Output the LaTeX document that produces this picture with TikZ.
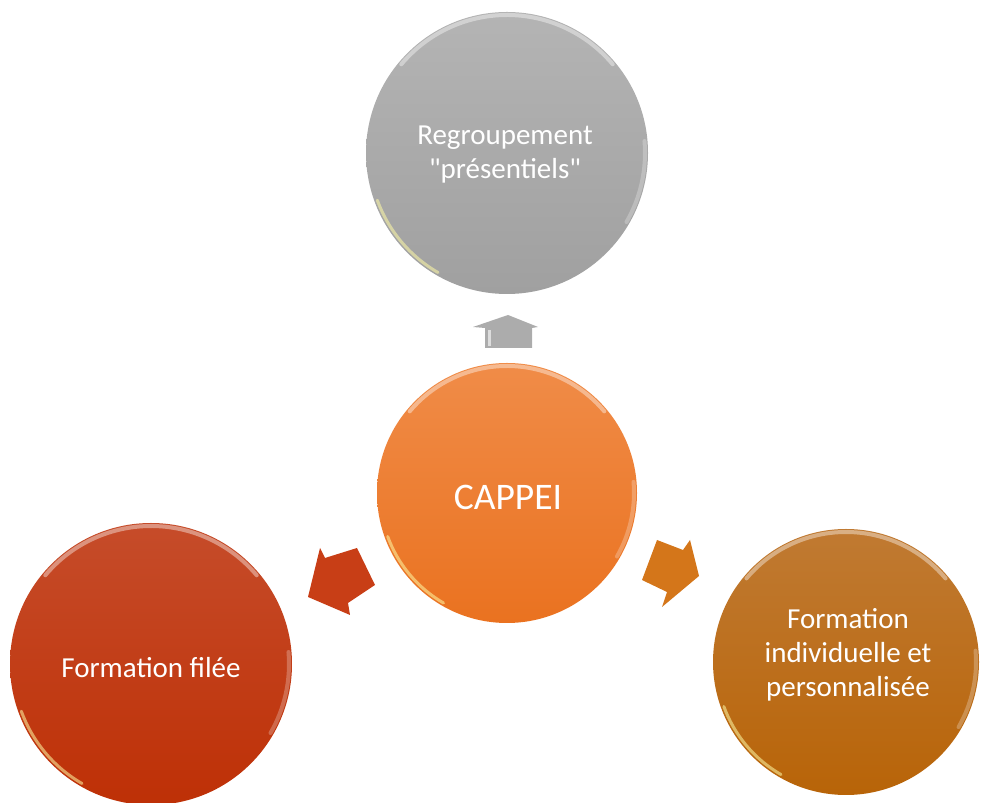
\documentclass[tikz,border=0pt]{standalone}
\usepackage{fontspec}
\newfontfamily\labelfont{Carlito}
\begin{document}
\begin{tikzpicture}[x=1pt,y=1pt,
  bubble/.style={circle, draw=none, inner sep=0pt, text=white, align=center,
    font=\labelfont\fontsize{29}{34}\selectfont},
  rim/.style={white, opacity=0.4, line width=4pt, line cap=round},
  glow/.style={yellow!35!white, opacity=0.55, line width=3pt, line cap=round}
]
\useasboundingbox (0,0) rectangle (983,803);
\definecolor{grayTop}{RGB}{180,180,180}
\definecolor{grayBot}{RGB}{160,160,160}
\definecolor{orTop}{RGB}{240,140,72}
\definecolor{orBot}{RGB}{234,114,32}
\definecolor{redTop}{RGB}{198,76,42}
\definecolor{redBot}{RGB}{190,48,6}
\definecolor{brTop}{RGB}{192,122,50}
\definecolor{brBot}{RGB}{184,100,8}
\definecolor{arrGray}{RGB}{172,172,172}
\definecolor{arrRed}{RGB}{200,62,22}
\definecolor{arrOr}{RGB}{212,118,26}

% circles
\node[bubble, minimum size=282, top color=grayTop, bottom color=grayBot] (top) at (507,650) {};
\node[bubble, minimum size=260, top color=orTop, bottom color=orBot] (mid) at (507,310) {};
\node[bubble, minimum size=282, top color=redTop, bottom color=redBot] (left) at (151,139) {};
\node[bubble, minimum size=266, top color=brTop, bottom color=brBot] (right) at (846,141) {};

% glossy rims
\foreach \c/\r in {top/138, mid/127, left/138, right/130}{
  \draw[rim] ([shift={(\c.center)}]140:\r) arc[start angle=140, end angle=40, radius=\r];
  \draw[glow] ([shift={(\c.center)}]200:\r) arc[start angle=200, end angle=240, radius=\r];
  \draw[rim, opacity=0.25] ([shift={(\c.center)}]5:\r) arc[start angle=5, end angle=-30, radius=\r];
}

% labels
\node[bubble] (toplbl) at (505,648) {Regroupement\\"présentiels"};
\node[bubble, font=\labelfont\fontsize{37.5}{42}\selectfont] (midlbl) at (508,306) {CAPPEI};
\node[bubble] (leftlbl) at (151,135) {Formation filée};
\node[bubble] (rightlbl) at (848,148) {Formation\\individuelle et\\personnalisée};

% block arrows
\fill[arrGray] (485,455) -- (532,455) -- (532,475) -- (538,476) -- (508,488) -- (473,476) -- (485,475) -- cycle;
\fill[white, opacity=0.6] (488,457) rectangle (491,473);
\fill[arrRed] (357,255) -- (375,218) -- (348,200) -- (350,188) -- (308,206) -- (320,255) -- (325,245) -- cycle;
\fill[arrOr] (657,263) -- (683,253) -- (690,263) -- (699,227) -- (662,196) -- (667,211) -- (642,223) -- cycle;
\end{tikzpicture}
\end{document}
